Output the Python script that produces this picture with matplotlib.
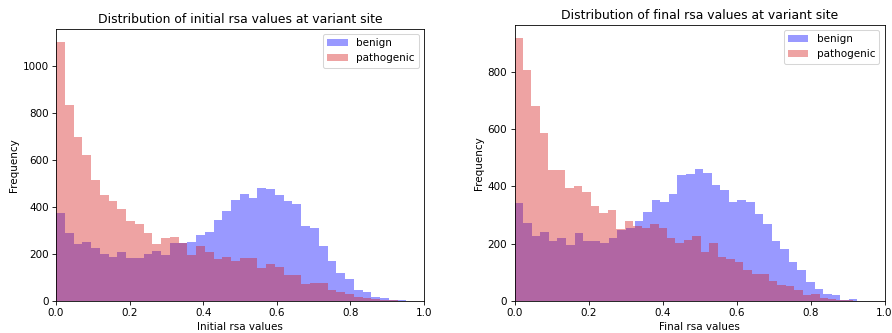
import numpy as np
import matplotlib
matplotlib.use("Agg")
import matplotlib.pyplot as plt

# ---------------- data (bin counts) ----------------
# Initial rsa: 40 bins on [0, 0.952]
initial_max = 0.952
initial_benign = [375, 290, 242, 250, 225, 200, 188, 207, 183, 183,
                  200, 214, 194, 246, 246, 250, 281, 295, 344, 382,
                  427, 453, 436, 478, 474, 450, 424, 410, 319, 311,
                  235, 169, 117, 94, 48, 39, 18, 11, 6, 3]
initial_pathogenic = [1100, 834, 696, 622, 512, 448, 424, 390, 339, 325,
                      288, 242, 268, 271, 248, 197, 232, 208, 178, 187,
                      168, 182, 182, 140, 156, 144, 111, 111, 72, 75,
                      75, 47, 40, 28, 15, 13, 10, 6, 3, 1]

# Final rsa: 40 bins each, benign on [0, 0.927], pathogenic on [0, 0.916]
final_benign_max = 0.927
final_pathogenic_max = 0.916
final_benign = [342, 273, 227, 240, 208, 221, 196, 237, 208, 208,
                204, 220, 248, 254, 279, 310, 351, 345, 373, 441,
                445, 461, 448, 406, 386, 347, 353, 347, 304, 268,
                209, 182, 137, 107, 67, 42, 26, 20, 5, 8]
final_pathogenic = [918, 807, 680, 588, 456, 456, 393, 402, 382, 331,
                    308, 317, 250, 281, 261, 256, 269, 254, 220, 204,
                    214, 227, 170, 204, 155, 146, 135, 107, 96, 95,
                    70, 56, 52, 38, 21, 25, 10, 8, 5, 3]

n_bins = 40
x_ticks = [0.0, 0.2, 0.4, 0.6, 0.8, 1.0]
labels = ["benign", "pathogenic"]
titles = ["Distribution of initial rsa values at variant site",
          "Distribution of final rsa values at variant site"]
xlabels = ["Initial rsa values", "Final rsa values"]
benign_color = "blue"
pathogenic_color = (0.84, 0.1, 0.1)

# ---------------- figure ----------------
W, H = 892, 333
dpi = 74.33
fig = plt.figure(figsize=(W / dpi, H / dpi), dpi=dpi)

def frac(x0, y0, x1, y1):
    return [x0 / W, 1 - y1 / H, (x1 - x0) / W, (y1 - y0) / H]

ax1 = fig.add_axes(frac(56, 29, 424, 301))
ax2 = fig.add_axes(frac(514.5, 25, 884.5, 301))

def draw(ax, benign, b_max, patho, p_max, title, xlabel):
    b_edges = np.linspace(0, b_max, n_bins + 1)
    p_edges = np.linspace(0, p_max, n_bins + 1)
    ax.hist(b_edges[:-1], bins=b_edges, weights=benign, color=benign_color,
            alpha=0.4, label=labels[0])
    ax.hist(p_edges[:-1], bins=p_edges, weights=patho, color=pathogenic_color,
            alpha=0.4, label=labels[1])
    ax.set_xlim(0, 1)
    ax.set_xticks(x_ticks)
    ax.set_title(title)
    ax.set_xlabel(xlabel)
    ax.set_ylabel("Frequency")
    ax.legend(loc="upper right")

draw(ax1, initial_benign, initial_max, initial_pathogenic, initial_max,
     titles[0], xlabels[0])
draw(ax2, final_benign, final_benign_max, final_pathogenic,
     final_pathogenic_max, titles[1], xlabels[1])

fig.savefig("out.png", dpi=dpi)
